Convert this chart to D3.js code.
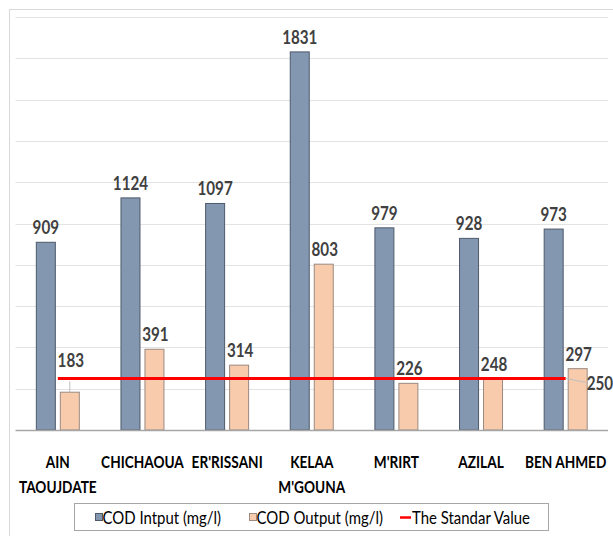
<!DOCTYPE html>
<html><head><meta charset="utf-8">
<script src="https://cdn.jsdelivr.net/npm/d3@7"></script>
<style>
html,body{margin:0;padding:0;background:#fff;}
svg{display:block;}
</style></head>
<body>
<svg id="chart" width="613" height="536"></svg>
<script>
const categories = ["AIN TAOUJDATE","CHICHAOUA","ER'RISSANI","KELAA M'GOUNA","M'RIRT","AZILAL","BEN AHMED"];
const codInput = [909,1124,1097,1831,979,928,973];
const codOutput = [183,391,314,803,226,248,297];
const standardValue = [250,250,250,250,250,250,250];
const yTicks = [0,200,400,600,800,1000,1200,1400,1600,1800,2000];
const seriesNames = ["COD Intput (mg/l)","COD Output (mg/l)","The Standar Value"];

const FONT = "Lato,'Open Sans',sans-serif";
const svg = d3.select("#chart");

// text helper: horizontally condensed text (Calibri-like)
function txt(parent, x, y, s, opt) {
  const o = Object.assign({size:16, weight:"bold", sx:0.9, anchor:"middle", fill:"#404040"}, opt||{});
  return parent.append("text")
    .attr("transform", `translate(${x},${y}) scale(${o.sx},1)`)
    .attr("font-family", FONT).attr("font-weight", o.weight).attr("font-size", o.size+"px")
    .attr("fill", o.fill).attr("text-anchor", o.anchor).text(s);
}

// outer chart border
svg.append("rect").attr("x",9.5).attr("y",9.5).attr("width",610).attr("height",540)
  .attr("fill","none").attr("stroke","#d9d9d9").attr("stroke-width",1);

const x0 = d3.scaleBand().domain(categories).range([15.5,608]).padding(0);
const x1 = d3.scaleBand().domain(["in","out"]).range([0,x0.bandwidth()])
  .paddingInner(0.208).paddingOuter(0.868);
const y = d3.scaleLinear().domain([0,2000]).range([430,17]);

// gridlines
svg.append("g").selectAll("line").data(yTicks.slice(1)).join("line")
  .attr("x1",15.5).attr("x2",608).attr("y1",d=>Math.round(y(d))+0.5).attr("y2",d=>Math.round(y(d))+0.5)
  .attr("stroke","#e3e3e3").attr("stroke-width",1);

const rows = categories.map((c,i)=>({c,inp:codInput[i],out:codOutput[i],std:standardValue[i]}));

// bars
const g = svg.append("g");
g.selectAll("rect.in").data(rows).join("rect").attr("class","in")
  .attr("x",d=>x0(d.c)+x1("in")).attr("width",x1.bandwidth())
  .attr("y",d=>y(d.inp)).attr("height",d=>y(0)-y(d.inp))
  .attr("fill","#8497b0").attr("stroke","#4d5a6b").attr("stroke-width",1);
g.selectAll("rect.out").data(rows).join("rect").attr("class","out")
  .attr("x",d=>x0(d.c)+x1("out")).attr("width",x1.bandwidth())
  .attr("y",d=>y(d.out)).attr("height",d=>y(0)-y(d.out))
  .attr("fill","#f8cbad").attr("stroke","#9a8a80").attr("stroke-width",1);

// baseline
svg.append("line").attr("x1",15.5).attr("x2",608).attr("y1",y(0)+0.5).attr("y2",y(0)+0.5)
  .attr("stroke","#a6a6a6").attr("stroke-width",1.5);

// standard line
const cx = d=>x0(d.c)+x0.bandwidth()/2;
const line = d3.line().x(cx).y(d=>y(d.std));
svg.append("path").datum(rows).attr("d",line).attr("fill","none")
  .attr("stroke","#ff0000").attr("stroke-width",3);

// value labels
const LBL = {size:19, sx:0.8};
const lbl = svg.append("g");
rows.forEach(d=>{
  const bx = x0(d.c)+x1("in")+x1.bandwidth()/2;
  txt(lbl, bx, y(d.inp)-8, d.inp, LBL);
});
const lineY = y(standardValue[0]);
rows.forEach(d=>{
  const bx = x0(d.c)+x1("out")+x1.bandwidth()/2;
  let ly = y(d.out)-8;
  const mid = ly-7;
  if (Math.abs(mid-lineY) < 8) {
    ly = lineY-11;
    lbl.append("line").attr("x1",bx).attr("x2",bx).attr("y1",lineY+3).attr("y2",y(d.out))
      .attr("stroke","#bfbfbf").attr("stroke-width",1);
  }
  txt(lbl, bx+1, ly, d.out, LBL);
});

// standard value label at end of line
const last = rows[rows.length-1];
lbl.append("line").attr("x1",cx(last)).attr("y1",y(last.std)).attr("x2",cx(last)+20).attr("y2",y(last.std)+4)
  .attr("stroke","#bfbfbf").attr("stroke-width",1);
txt(lbl, cx(last)+21, y(last.std)+12, last.std, Object.assign({anchor:"start"}, LBL));

// category labels
const cat = svg.append("g");
rows.forEach(d=>{
  const parts = d.c==="BEN AHMED" ? [d.c] : d.c.split(" ");
  parts.forEach((p,i)=>txt(cat, cx(d), 468+i*25, p, {size:17.5, sx:0.78, fill:"#000"}));
});

// legend
svg.append("rect").attr("x",74.5).attr("y",503.5).attr("width",474).attr("height",27)
  .attr("fill","#fff").attr("stroke","#a6a6a6").attr("stroke-width",1);
const lg = svg.append("g");
const LEG = {size:18, weight:"normal", sx:0.83, anchor:"start", fill:"#000"};
lg.append("rect").attr("x",95.5).attr("y",513.5).attr("width",7).attr("height",7)
  .attr("fill","#8497b0").attr("stroke","#4d5a6b");
txt(lg, 102.5, 524, seriesNames[0], LEG);
lg.append("rect").attr("x",249.5).attr("y",513.5).attr("width",7).attr("height",7)
  .attr("fill","#f8cbad").attr("stroke","#9a8a80");
txt(lg, 256.5, 524, seriesNames[1], LEG);
lg.append("line").attr("x1",400).attr("x2",411).attr("y1",517.5).attr("y2",517.5)
  .attr("stroke","#ff0000").attr("stroke-width",2.5);
txt(lg, 412, 524, seriesNames[2], LEG);
</script>
</body></html>
